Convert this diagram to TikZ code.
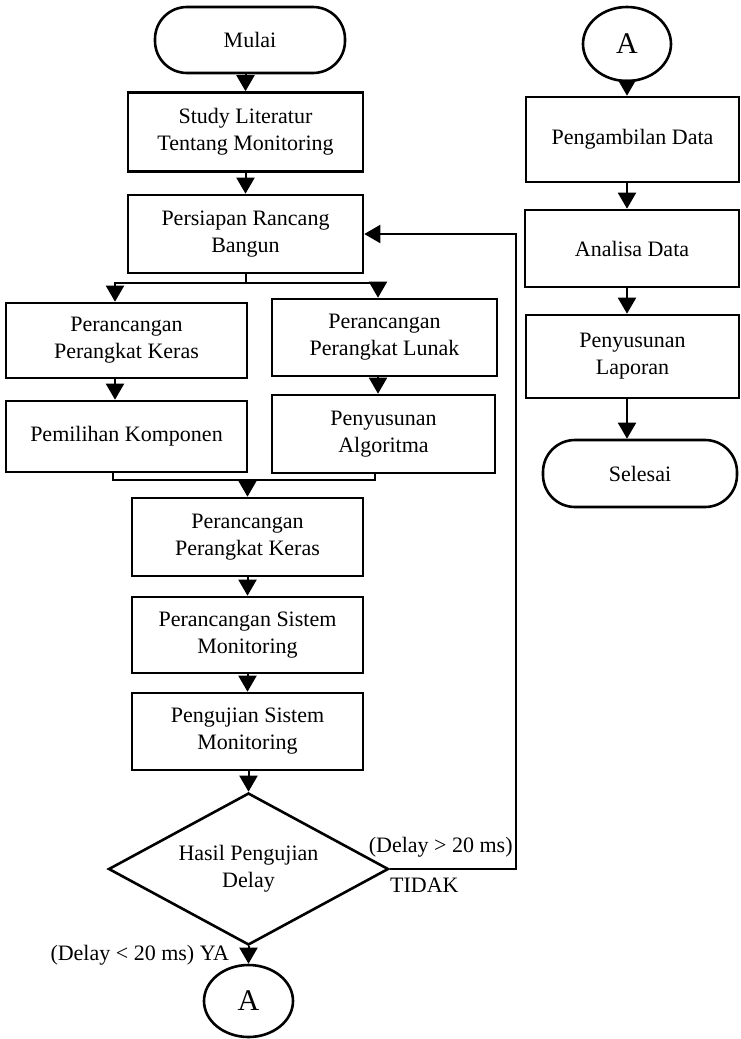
\documentclass[tikz,border=0pt]{standalone}
\usepackage{fontspec}
\setmainfont{Liberation Serif}
\usetikzlibrary{positioning, arrows.meta, shapes.geometric}

\begin{document}
\begin{tikzpicture}[
            x=0.5pt, y=-0.5pt,
            font=\fontsize{11}{13.5}\selectfont,
            block/.style={rectangle, draw, line width=1.3pt, align=center, inner sep=2pt},
            term/.style={rectangle, draw, rounded corners=16pt, line width=1.3pt, align=center},
            conn/.style={ellipse, draw, line width=1.3pt, inner sep=0pt, font=\fontsize{15}{18}\selectfont},
            decide/.style={diamond, draw, line width=1.3pt, aspect=1.84, inner sep=0pt, align=center, minimum width=140pt, minimum height=76pt},
            arr/.style={-{Triangle[width=9pt,length=8pt]}, line width=1pt},
            line/.style={line width=1pt},
            lbl/.style={inner sep=0pt}
        ]
            \useasboundingbox (0,0) rectangle (740,1039);

            % kolom kiri
            \node[term, minimum width=95pt, minimum height=33pt] (mulai) at (250,40) {Mulai};
            \node[block, minimum width=117.5pt, minimum height=39.5pt] (study) at (245.5,132) {Study Literatur\\Tentang Monitoring};
            \node[block, minimum width=117.5pt, minimum height=39pt] (siap) at (245.5,234) {Persiapan Rancang\\Bangun};
            \node[block, minimum width=120.5pt, minimum height=37.5pt] (keras) at (126.5,340.5) {Perancangan\\Perangkat Keras};
            \node[block, minimum width=112.5pt, minimum height=38.5pt] (lunak) at (384.5,337.5) {Perancangan\\Perangkat Lunak};
            \node[block, minimum width=120.5pt, minimum height=35.5pt] (komponen) at (126.5,436.5) {Pemilihan Komponen};
            \node[block, minimum width=111.5pt, minimum height=39pt] (algo) at (383.5,434) {Penyusunan\\Algoritma};
            \node[block, minimum width=115.5pt, minimum height=39pt] (kerasdua) at (247.5,537) {Perancangan\\Perangkat Keras};
            \node[block, minimum width=115.5pt, minimum height=38pt] (sistem) at (247.5,635) {Perancangan Sistem\\Monitoring};
            \node[block, minimum width=115.5pt, minimum height=38.5pt] (uji) at (247.5,731.5) {Pengujian Sistem\\Monitoring};
            \node[decide] (hasil) at (248.5,869) {Hasil Pengujian\\Delay};
            \node[conn, minimum width=44.5pt, minimum height=36pt] (abawah) at (248.5,1001) {A};

            % kolom kanan
            \node[conn, minimum width=44pt, minimum height=37pt] (aatas) at (627,44) {A};
            \node[block, minimum width=106.5pt, minimum height=42.5pt] (ambil) at (632.5,139.5) {Pengambilan Data};
            \node[block, minimum width=107pt, minimum height=38.5pt] (analisa) at (632,248.5) {Analisa Data};
            \node[block, minimum width=106.5pt, minimum height=41.5pt] (laporan) at (632.5,356.5) {Penyusunan\\Laporan};
            \node[term, minimum width=97pt, minimum height=33.5pt] (selesai) at (640,473.5) {Selesai};

            \coordinate (kiri) at (115,283);
            \coordinate (kanan) at (378,283);
            \coordinate (gkiri) at (113,480);
            \coordinate (gkanan) at (375,480);
            \coordinate (balik) at (516,869);

            \draw[arr] (mulai.south -| study.north) -- (study.north);
            \draw[arr] (study) -- (siap);
            \draw[arr] (siap.south) |- (kiri) -- (kiri |- keras.north);
            \draw[arr] (siap.south |- kanan) -- (kanan) -- (kanan |- lunak.north);
            \draw[arr] (kiri |- keras.south) -- (kiri |- komponen.north);
            \draw[arr] (kanan |- lunak.south) -- (kanan |- algo.north);
            \draw[line] (gkiri |- komponen.south) -- (gkiri) -- (gkanan) -- (gkanan |- algo.south);
            \draw[arr] (kerasdua.north |- gkiri) -- (kerasdua.north);
            \draw[arr] (kerasdua) -- (sistem);
            \draw[arr] (sistem) -- (uji);
            \draw[arr] (uji.south -| hasil.north) -- (hasil.north);
            \draw[arr] (hasil.south) -- (abawah.north);
            \draw[arr] (hasil.east) -- (balik) |- (siap.east);

            \node[lbl, anchor=base east, xshift=-1.5pt, yshift=8.5pt] (lebih) at (balik) {(Delay > 20 ms)};
            \node[lbl, anchor=base west, yshift=-11.5pt] (tidak) at (hasil.east) {TIDAK};
            \node[lbl, anchor=base east, xshift=-9.5pt, yshift=-7pt] (kurang) at (hasil.south) {(Delay < 20 ms) YA};

            \draw[arr] (aatas.south) -- (aatas.south |- ambil.north);
            \draw[arr] (aatas.south |- ambil.south) -- (aatas.south |- analisa.north);
            \draw[arr] (aatas.south |- analisa.south) -- (aatas.south |- laporan.north);
            \draw[arr] (aatas.south |- laporan.south) -- (aatas.south |- selesai.north);
        \end{tikzpicture}
\end{document}
